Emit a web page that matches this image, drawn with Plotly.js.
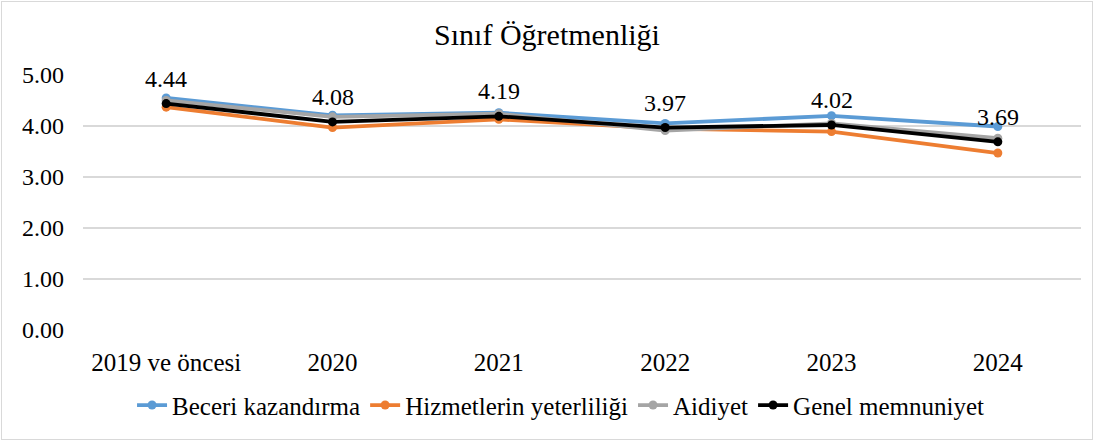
<!DOCTYPE html>
<html>
<head>
<meta charset="utf-8">
<script src="https://cdn.plot.ly/plotly-3.0.1.min.js"></script>
<style>
html,body{margin:0;padding:0;background:#fff;}
#chart{width:1090px;height:437px;border:1px solid #d9d9d9;margin:1px;}
</style>
</head>
<body>
<div id="chart"></div>
<script>
const categories = ["2019 ve öncesi","2020","2021","2022","2023","2024"];
const beceri = [4.55, 4.21, 4.26, 4.05, 4.20, 3.99];
const hizmet = [4.37, 3.97, 4.13, 3.95, 3.89, 3.47];
const aidiyet = [4.50, 4.18, 4.24, 3.91, 4.05, 3.76];
const genel = [4.44, 4.08, 4.19, 3.97, 4.02, 3.69];
const seriesNames = ["Beceri kazandırma","Hizmetlerin yeterliliği","Aidiyet","Genel memnuniyet"];
const seriesColors = ["#5b9bd5","#ed7d31","#a5a5a5","#000000"];
const seriesData = [beceri, hizmet, aidiyet, genel];

const font = "Liberation Serif";
const traces = seriesData.map((d,i)=>({
  type:"scatter", mode:"lines+markers", x:categories, y:d, name:seriesNames[i],
  line:{color:seriesColors[i], width:3.8},
  marker:{color:seriesColors[i], size:9}
}));

const annotations = genel.map((v,i)=>({
  x:i, y:v, xref:"x", yref:"y", text:v.toFixed(2), showarrow:false,
  yshift:25, font:{family:font, size:24, color:"#000"}
}));

const layout = {
  width:1090, height:437,
  margin:{l:81, r:11, t:73, b:103},
  paper_bgcolor:"#fff", plot_bgcolor:"#fff",
  font:{family:font, color:"#000"},
  title:{text:"Sınıf Öğretmenliği", font:{family:font, size:30, color:"#000"}, x:0.5, xanchor:"center", y:0.925, yanchor:"middle"},
  xaxis:{type:"category", range:[-0.5,5.5], showgrid:false, zeroline:false, showline:false, ticks:"",
    tickfont:{family:font, size:25, color:"#000"}, ticklabelstandoff:15},
  yaxis:{range:[0,5], dtick:1, tickformat:".2f", showgrid:true, gridcolor:"#d9d9d9", gridwidth:1.3,
    zeroline:false, showline:false, ticks:"", tickfont:{family:font, size:24, color:"#000"}, ticklabelstandoff:18},
  showlegend:true,
  legend:{orientation:"h", x:0.479, xanchor:"center", y:-0.205, yanchor:"top",
    font:{family:font, size:25, color:"#000"}, itemwidth:30, traceorder:"normal"},
  annotations:annotations
};
Plotly.newPlot("chart", traces, layout, {displayModeBar:false, staticPlot:true});
</script>
</body>
</html>
